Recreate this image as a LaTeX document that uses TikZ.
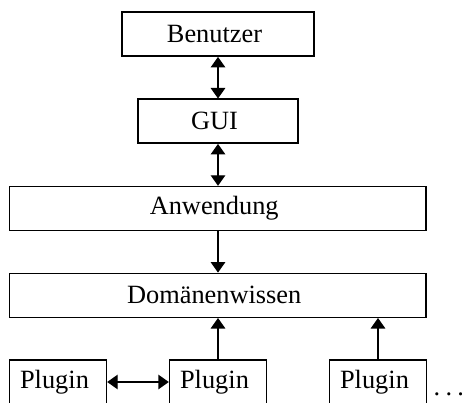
\documentclass[tikz,border=0pt]{standalone}
\usepackage{fontspec}
\setmainfont{Liberation Serif}
\usetikzlibrary{arrows.meta}

\begin{document}
\begin{tikzpicture}[line width=0.8pt,
  box/.style={draw, minimum height=0.88cm, inner sep=0pt,
    font=\fontsize{15pt}{18pt}\selectfont, execute at begin node={\kern-0.14cm}},
  both/.style={{Triangle[length=0.21cm,width=0.29cm]}-{Triangle[length=0.21cm,width=0.29cm]}},
  onedir/.style={-{Triangle[length=0.21cm,width=0.29cm]}}]
\useasboundingbox (0,0) rectangle (9.24,-8.06);
\clip (0,0) rectangle (9.24,-8.06);
\node[box, minimum width=3.84cm] (user) at (4.36,-0.684) {Benutzer};
\node[box, minimum width=3.2cm] (gui) at (4.36,-2.424) {GUI};
\node[box, minimum width=8.33cm] (app) at (4.354,-4.17) {Anwendung};
\node[box, minimum width=8.33cm] (dom) at (4.354,-5.906) {Domänenwissen};
\foreach \x/\n in {1.16/plugA, 4.36/plugB, 7.56/plugC}
  \node[box, minimum width=1.94cm] (\n) at (\x,-7.64) {Plugin};
\node[font=\fontsize{15pt}{18pt}\selectfont, inner sep=0pt, anchor=base west]
  (more) at (8.66,-7.9) {.\kern0.2em.\kern0.2em.};
\draw[both] (user.south) -- (gui.north);
\draw[both] (gui.south) -- (gui.south |- app.north);
\draw[onedir] (gui.south |- app.south) -- (gui.south |- dom.north);
\draw[onedir] (plugB.north) -- (plugB.north |- dom.south);
\draw[onedir] (plugC.north) -- (plugC.north |- dom.south);
\draw[both] (plugA.east) -- (plugB.west);
\end{tikzpicture}
\end{document}
